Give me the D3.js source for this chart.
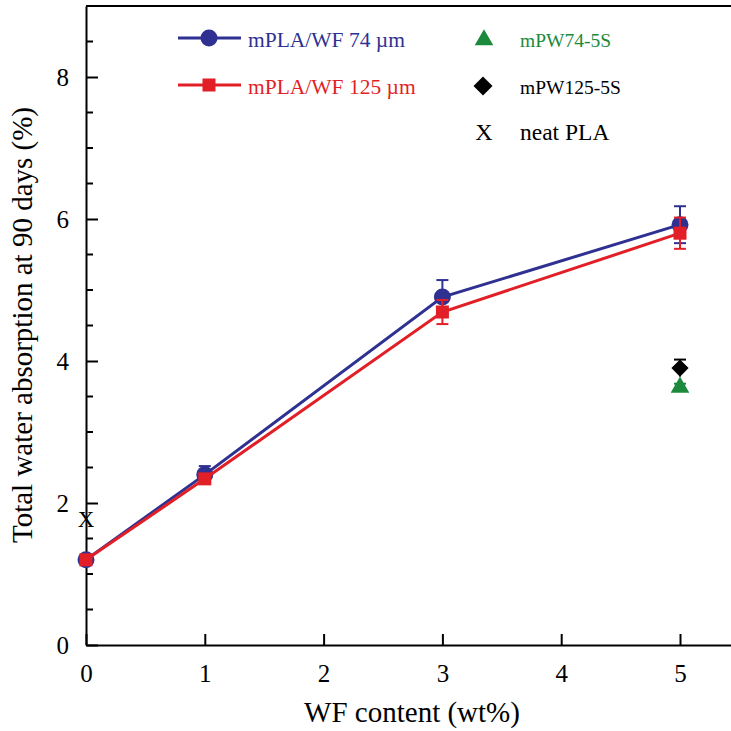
<!DOCTYPE html>
<html><head><meta charset="utf-8">
<script src="https://cdn.jsdelivr.net/npm/d3@7"></script>
<style>body{margin:0;background:#fff}svg{display:block}text{font-family:"Liberation Serif","Times New Roman",serif}</style>
</head><body>
<svg id="c" width="731" height="731"></svg>
<script>
const wf = [0, 1, 3, 5];
const pw74 = [1.2, 2.4, 4.9, 5.92];
const pw74Err = [0.03, 0.12, 0.24, 0.26];
const pw125 = [1.2, 2.34, 4.69, 5.8];
const pw125Err = [0.03, 0.06, 0.17, 0.22];
const s74 = {x: 5, y: 3.63, err: 0.05};
const s125 = {x: 5, y: 3.9, err: 0.12};
const neat = {x: 0, y: 1.77};
const xTicks = [0, 1, 2, 3, 4, 5];
const yTicks = [0, 2, 4, 6, 8];
const yMinor = d3.range(0.5, 9, 0.5);

const BLUE = "#2e3192", RED = "#e21f26", GREEN = "#1b8a3c";
const svg = d3.select("#c");
const x = d3.scaleLinear().domain([0, 5.5]).range([86, 739.4]);
const y = d3.scaleLinear().domain([0, 9]).range([645, 6]);

// frame
svg.append("path").attr("d", `M${x(0)},${y(9)}L${x(5.5)},${y(9)}`).attr("stroke","#000").attr("stroke-width",2);
// axes
const ax = svg.append("g").attr("transform", `translate(0,${y(0)})`)
  .call(d3.axisBottom(x).tickValues(xTicks).tickSizeInner(-11).tickSizeOuter(0).tickPadding(19).tickFormat(d3.format("d")));
ax.select(".domain").attr("stroke-width",2);
ax.selectAll(".tick line").attr("stroke-width",2);
ax.selectAll("text").attr("font-size",25).attr("fill","#000");
const ay = svg.append("g").attr("transform", `translate(${x(0)},0)`)
  .call(d3.axisLeft(y).tickValues(yTicks).tickSizeInner(-12).tickSizeOuter(0).tickPadding(17).tickFormat(d3.format("d")));
ay.select(".domain").attr("stroke-width",2);
ay.selectAll(".tick line").attr("stroke-width",2);
ay.selectAll("text").attr("font-size",25).attr("fill","#000");
svg.append("g").selectAll("line").data(yMinor.filter(v => v % 2 !== 0)).join("line")
  .attr("x1", x(0)).attr("x2", x(0) + 7).attr("y1", d => y(d)).attr("y2", d => y(d))
  .attr("stroke","#000").attr("stroke-width",2);

// labels
svg.append("text").attr("x", 412).attr("y", 722).attr("text-anchor","middle").attr("font-size",29).text("WF content (wt%)");
svg.append("text").attr("transform","translate(32,325) rotate(-90)").attr("text-anchor","middle").attr("font-size",29).text("Total water absorption at 90 days (%)");

function errBars(vals, errs, color) {
  const g = svg.append("g").attr("stroke", color).attr("stroke-width", 2);
  wf.forEach((w, i) => {
    const cx = x(w), t = y(vals[i] + errs[i]), b = y(vals[i] - errs[i]);
    g.append("line").attr("x1",cx).attr("x2",cx).attr("y1",t).attr("y2",b);
    g.append("line").attr("x1",cx-6).attr("x2",cx+6).attr("y1",t).attr("y2",t);
    g.append("line").attr("x1",cx-6).attr("x2",cx+6).attr("y1",b).attr("y2",b);
  });
}
const line = d3.line().x((d,i) => x(wf[i])).y(d => y(d));
errBars(pw74, pw74Err, BLUE);
svg.append("path").datum(pw74).attr("d", line).attr("fill","none").attr("stroke",BLUE).attr("stroke-width",3);
svg.append("g").selectAll("circle").data(pw74).join("circle")
  .attr("cx",(d,i)=>x(wf[i])).attr("cy",d=>y(d)).attr("r",8.5).attr("fill",BLUE);
errBars(pw125, pw125Err, RED);
svg.append("path").datum(pw125).attr("d", line).attr("fill","none").attr("stroke",RED).attr("stroke-width",3);
svg.append("g").selectAll("rect").data(pw125).join("rect")
  .attr("x",(d,i)=>x(wf[i])-6.5).attr("y",d=>y(d)-6.5).attr("width",13).attr("height",13).attr("fill",RED);

// single points
function single(p, color, type, size) {
  const cx = x(p.x), cy = y(p.y);
  if (p.err) {
    const g = svg.append("g").attr("stroke", color).attr("stroke-width", 2);
    g.append("line").attr("x1",cx).attr("x2",cx).attr("y1",y(p.y+p.err)).attr("y2",y(p.y-p.err));
    g.append("line").attr("x1",cx-6).attr("x2",cx+6).attr("y1",y(p.y+p.err)).attr("y2",y(p.y+p.err));
  }
  svg.append("path").attr("transform",`translate(${cx},${cy})`)
    .attr("d", d3.symbol().type(type).size(size)()).attr("fill",color);
}
const DIAMOND = d3.symbolDiamond2 || d3.symbolDiamond;
single(s74, GREEN, d3.symbolTriangle, 150);
single(s125, "#000", DIAMOND, 190);
svg.append("text").attr("x", x(neat.x)).attr("y", y(neat.y)).attr("dy","0.35em").attr("text-anchor","middle")
  .attr("font-size",23).text("X");

// legend
const lg = svg.append("g");
lg.append("line").attr("x1",178).attr("x2",241).attr("y1",38).attr("y2",38).attr("stroke",BLUE).attr("stroke-width",3);
lg.append("circle").attr("cx",209).attr("cy",38).attr("r",8.5).attr("fill",BLUE);
lg.append("text").attr("x",248).attr("y",39).attr("dy","0.35em").attr("font-size",21.5).attr("fill",BLUE).text("mPLA/WF 74 µm");
lg.append("line").attr("x1",178).attr("x2",241).attr("y1",85).attr("y2",85).attr("stroke",RED).attr("stroke-width",3);
lg.append("rect").attr("x",202.5).attr("y",78.5).attr("width",13).attr("height",13).attr("fill",RED);
lg.append("text").attr("x",248).attr("y",86).attr("dy","0.35em").attr("font-size",21.5).attr("fill",RED).text("mPLA/WF 125 µm");
lg.append("path").attr("transform","translate(484,40)").attr("d", d3.symbol().type(d3.symbolTriangle).size(150)()).attr("fill",GREEN);
lg.append("text").attr("x",520).attr("y",40).attr("dy","0.35em").attr("font-size",19.5).attr("fill",GREEN).text("mPW74-5S");
lg.append("path").attr("transform","translate(483,86)").attr("d", d3.symbol().type(DIAMOND).size(230)()).attr("fill","#000");
lg.append("text").attr("x",520).attr("y",87).attr("dy","0.35em").attr("font-size",19.5).text("mPW125-5S");
lg.append("text").attr("x",484).attr("y",132).attr("dy","0.35em").attr("text-anchor","middle").attr("font-size",24).text("X");
lg.append("text").attr("x",520).attr("y",132).attr("dy","0.35em").attr("font-size",23.5).text("neat PLA");
</script>
</body></html>
